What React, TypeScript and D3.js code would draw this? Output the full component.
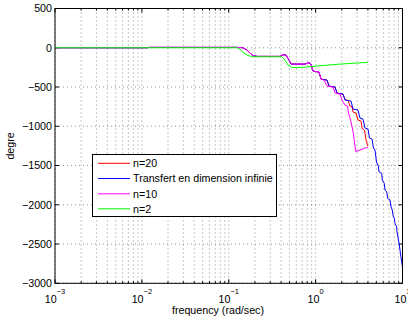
import React from 'react';
import * as d3 from 'd3';

const W = 408;
const H = 322;
const PL = 55, PR = 402.5, PT = 8.5, PB = 283.3;

const yTickValues = [500, 0, -500, -1000, -1500, -2000, -2500, -3000];
const xTickExponents = [-3, -2, -1, 0, 1];

const seriesNames = ['n=20', 'Transfert en dimension infinie', 'n=10', 'n=2'];
const seriesColors = ['#ff0000', '#0000ff', '#ff00ff', '#00ff00'];

// shared low-frequency part (red, blue, magenta)
const commonFreq = [0.001, 0.01146, 0.0124, 0.1245, 0.1459, 0.1622, 0.1757, 0.1902, 0.2115, 0.389, 0.4211, 0.456, 0.4939, 0.5207, 0.7547, 0.839, 0.8845, 0.9328, 1.094, 1.153];
const commonDeg = [0, 0, 5, 5, 0, -29, -68, -99, -110, -110, -89, -93, -157, -208, -208, -189, -208, -297, -310, -399];

// Transfert en dimension infinie (blue) after the shared part
const blueFreq = [1.352, 1.426, 1.672, 1.762, 2.067, 2.179, 2.555, 2.694, 3.075, 3.243, 3.511, 3.702, 4.009, 4.172, 4.457, 4.637, 4.825, 5.021, 5.266, 5.365, 5.763, 5.857, 6.175, 6.29, 6.58, 6.757, 7.181, 7.374, 7.631, 7.837, 8.048, 8.198, 8.577, 8.647, 8.878, 9.116, 9.361, 9.561, 9.766, 10];
const blueDeg = [-412, -488, -501, -577, -590, -666, -679, -781, -794, -896, -908, -1023, -1036, -1150, -1163, -1278, -1304, -1456, -1507, -1580, -1600, -1686, -1728, -1813, -1835, -1919, -1940, -2026, -2068, -2153, -2173, -2237, -2280, -2344, -2412, -2488, -2577, -2654, -2718, -2794];

// n=20 (red) after the shared part
const redFreq = [1.352, 1.426, 1.672, 1.762, 2.067, 2.179, 2.359, 2.487, 2.623, 2.694, 2.916, 3.075, 3.331, 3.42, 3.652, 3.802, 4];
const redDeg = [-412, -488, -501, -577, -590, -660, -673, -743, -749, -819, -832, -921, -934, -1025, -1049, -1176, -1252];

// n=10 (magenta) after the shared part
const magentaFreq = [1.248, 1.352, 1.585, 1.672, 1.908, 2.012, 2.179, 2.328, 2.391, 2.487, 2.603, 2.715, 2.893, 4];
const magentaDeg = [-412, -488, -501, -577, -590, -666, -730, -743, -832, -896, -985, -1087, -1322, -1265];

// n=2 (green)
const greenFreq = [0.001, 0.1245, 0.1347, 0.1459, 0.1666, 0.1902, 0.41, 0.444, 0.481, 0.535, 0.627, 0.862, 1.123, 1.908, 4];
const greenDeg = [0, 0, -17, -61, -99, -115, -115, -157, -220, -252, -252, -242, -229, -208, -186];

const FONT = "'Liberation Sans', Arial, Helvetica, sans-serif";

export default function App() {
  const x = d3.scaleLog().domain([1e-3, 10]).range([PL, PR]);
  const y = d3.scaleLinear().domain([-3000, 500]).range([PB, PT]);

  const toPts = (f: number[], d: number[]) => f.map((v, i) => [v, d[i]] as [number, number]);
  const series = [
    [...toPts(commonFreq, commonDeg), ...toPts(redFreq, redDeg)],
    [...toPts(commonFreq, commonDeg), ...toPts(blueFreq, blueDeg)],
    [...toPts(commonFreq, commonDeg), ...toPts(magentaFreq, magentaDeg)],
    toPts(greenFreq, greenDeg),
  ];
  const line = d3.line<[number, number]>().x((p) => x(p[0])).y((p) => y(p[1]));

  const minor: number[] = [];
  for (let e = -3; e < 1; e++) for (let k = 2; k <= 9; k++) minor.push(k * Math.pow(10, e));
  const major = xTickExponents.map((e) => Math.pow(10, e));

  const legendRows = [163.3, 178.5, 193.8, 208.8];

  return (
    <svg width={W} height={H} style={{ position: 'absolute', left: 0, top: 0, background: '#fff' }} fontFamily={FONT}>
      <rect x={0} y={0} width={W} height={H} fill="#fff" />
      <g stroke="#000" strokeWidth={0.6} strokeDasharray="1 3" opacity={0.7}>
        {[...major, ...minor].map((v, i) => (
          <line key={'gx' + i} x1={x(v)} x2={x(v)} y1={PT} y2={PB} />
        ))}
        {yTickValues.map((v, i) => (
          <line key={'gy' + i} x1={PL} x2={PR} y1={y(v)} y2={y(v)} />
        ))}
      </g>
      <g stroke="#000" strokeWidth={1}>
        {major.map((v, i) => (
          <g key={'mt' + i}>
            <line x1={x(v)} x2={x(v)} y1={PB} y2={PB - 4} />
            <line x1={x(v)} x2={x(v)} y1={PT} y2={PT + 4} />
          </g>
        ))}
        {minor.map((v, i) => (
          <g key={'nt' + i}>
            <line x1={x(v)} x2={x(v)} y1={PB} y2={PB - 2} />
            <line x1={x(v)} x2={x(v)} y1={PT} y2={PT + 2} />
          </g>
        ))}
        {yTickValues.map((v, i) => (
          <g key={'yt' + i}>
            <line x1={PL} x2={PL + 4} y1={y(v)} y2={y(v)} />
            <line x1={PR} x2={PR - 4} y1={y(v)} y2={y(v)} />
          </g>
        ))}
      </g>
      {series.map((s, i) => (
        <path key={'s' + i} d={line(s) || ''} fill="none" stroke={seriesColors[i]} strokeWidth={1} />
      ))}
      <rect x={PL} y={PT} width={PR - PL} height={PB - PT} fill="none" stroke="#000" strokeWidth={1} />
      {yTickValues.map((v, i) => (
        <text key={'yl' + i} x={PL - 3} y={y(v)} dy="0.35em" textAnchor="end" fontSize={10.7} fill="#000">
          {v < 0 ? '\u2212' + Math.abs(v) : String(v)}
        </text>
      ))}
      {xTickExponents.map((e, i) => (
        <text key={'xl' + i} x={x(Math.pow(10, e))} y={303} textAnchor="middle" fontSize={10.7} fill="#000">
          10
          <tspan dy={-9} fontSize={7.5}>{e < 0 ? '\u2212' + Math.abs(e) : String(e)}</tspan>
        </text>
      ))}
      <text x={218} y={313.5} textAnchor="middle" fontSize={10.7} fill="#000">frequency (rad/sec)</text>
      <text transform={`translate(14,${(PT + PB) / 2}) rotate(-90)`} textAnchor="middle" fontSize={10.7} fill="#000">degre</text>
      <rect x={92.5} y={154.5} width={184} height={62} fill="#fff" stroke="#000" strokeWidth={1} />
      {seriesNames.map((n, i) => (
        <g key={'lg' + i}>
          <line x1={98} x2={130} y1={legendRows[i]} y2={legendRows[i]} stroke={seriesColors[i]} strokeWidth={1} />
          <text x={133} y={legendRows[i]} dy="0.35em" fontSize={10.7} fill="#000">{n}</text>
        </g>
      ))}
    </svg>
  );
}
